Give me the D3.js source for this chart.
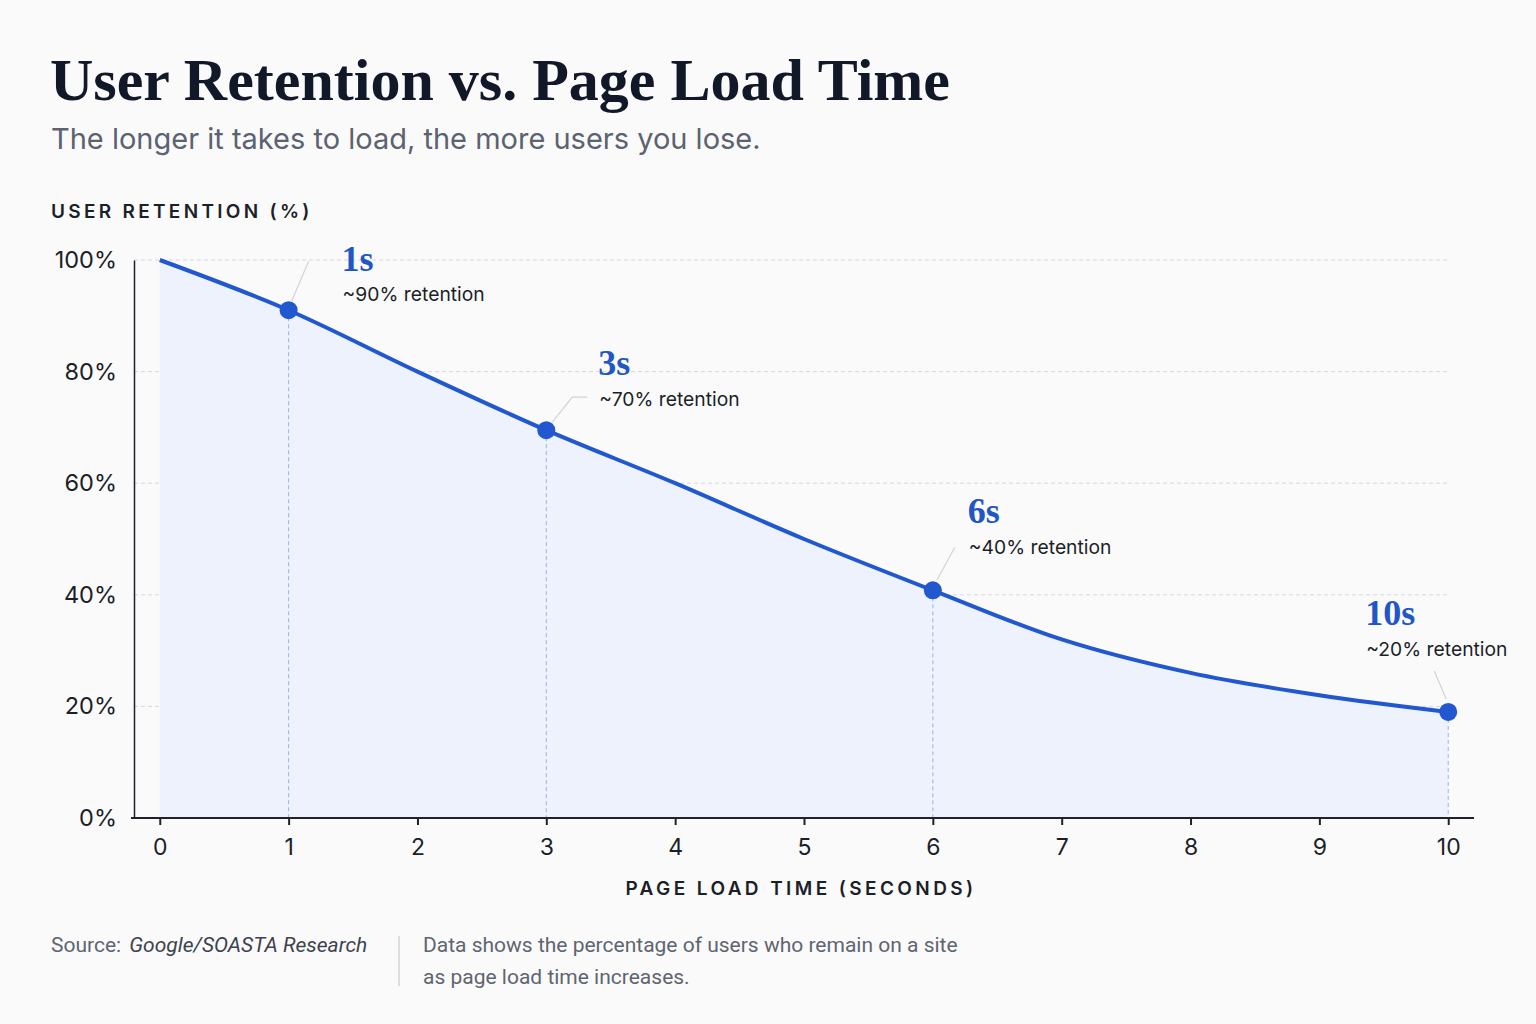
<!DOCTYPE html>
<html>
<head>
<meta charset="utf-8">
<script src="https://cdn.jsdelivr.net/npm/d3@7"></script>
<style>
  body { margin: 0; background: #fafafb; }
  text { font-family: Inter, "Noto Sans", sans-serif; }
</style>
</head>
<body>
<svg id="chart" width="1536" height="1024"></svg>
<script>
// data
var seconds   = [0, 1, 2, 3, 4, 5, 6, 7, 8, 9, 10];
var retention = [100, 91, 80, 69.5, 60, 50, 40.8, 32, 26, 22, 19];

var markSeconds = [1, 3, 6, 10];
var markTitles  = ["1s", "3s", "6s", "10s"];
var markNotes   = ["~90% retention", "~70% retention", "~40% retention", "~20% retention"];

var xTicks = [0, 1, 2, 3, 4, 5, 6, 7, 8, 9, 10];
var yTicks = [0, 20, 40, 60, 80, 100];

// label placement relative to each marker (layout only)
var labelLayout = [
  {tx: 53, ty: -39, ny: -9,  lead: [[3, -9], [20, -49]]},
  {tx: 52, ty: -55, ny: -24, lead: [[6, -8], [26, -33], [41, -33]]},
  {tx: 35, ty: -67, ny: -36, lead: [[4, -10], [22, -43]]},
  {tx: -83, ty: -87, ny: -56, lead: [[-2, -13], [-14, -41]]}
];

var data = seconds.map((s, i) => ({s: s, r: retention[i]}));

var svg = d3.select("#chart");

var blue = "#2157cf";

// titles
svg.append("text")
    .attr("x", 50).attr("y", 100)
    .style("font-family", "'Liberation Serif', 'DejaVu Serif', serif")
    .style("font-weight", 700)
    .style("font-size", "60px")
    .attr("fill", "#111827")
    .text("User Retention vs. Page Load Time");

svg.append("text")
    .attr("x", 51).attr("y", 149)
    .style("font-size", "29px")
    .attr("fill", "#5b6270")
    .text("The longer it takes to load, the more users you lose.");

svg.append("text")
    .attr("x", 51).attr("y", 218)
    .style("font-size", "19px")
    .style("font-weight", 600)
    .style("letter-spacing", "3.3px")
    .attr("fill", "#1b1f27")
    .text("USER RETENTION (%)");

// scales
var x = d3.scaleLinear().domain([-0.2, 10.2]).range([134, 1474]);
var y = d3.scaleLinear().domain([0, 100]).range([818, 260]);

var g = svg.append("g");

// grid
g.append("g")
  .selectAll("line")
  .data(yTicks.filter(d => d > 0))
  .enter().append("line")
    .attr("x1", x(-0.2)).attr("x2", 1447)
    .attr("y1", d => y(d)).attr("y2", d => y(d))
    .attr("stroke", "#d5d9e0")
    .attr("stroke-width", 1)
    .attr("stroke-dasharray", "4,3");

// area + line
var area = d3.area()
    .x(d => x(d.s))
    .y0(y(0))
    .y1(d => y(d.r))
    .curve(d3.curveMonotoneX);

var line = d3.line()
    .x(d => x(d.s))
    .y(d => y(d.r))
    .curve(d3.curveMonotoneX);

g.append("path")
    .datum(data)
    .attr("d", area)
    .attr("fill", "#edf2fd");

// drop lines
var marks = markSeconds.map((s, i) => ({s: s, r: retention[seconds.indexOf(s)], title: markTitles[i], note: markNotes[i], lay: labelLayout[i]}));

g.append("g")
  .selectAll("line")
  .data(marks)
  .enter().append("line")
    .attr("x1", d => x(d.s)).attr("x2", d => x(d.s))
    .attr("y1", d => y(d.r)).attr("y2", y(0))
    .attr("stroke", "#9fb4d8")
    .attr("stroke-width", 1)
    .attr("stroke-dasharray", "4,3");

g.append("path")
    .datum(data)
    .attr("d", line)
    .attr("fill", "none")
    .attr("stroke", blue)
    .attr("stroke-width", 4);

// axes
var xAxis = g.append("g")
    .attr("transform", "translate(0," + y(0) + ")")
    .call(d3.axisBottom(x).tickValues(xTicks).tickSize(7).tickSizeOuter(0).tickPadding(14));
xAxis.select(".domain").attr("stroke", "#1f2329").attr("stroke-width", 2).attr("d", "M131,0H1474");
xAxis.selectAll(".tick line").attr("stroke", "#1f2329").attr("stroke-width", 2).attr("y1", 0);
xAxis.selectAll(".tick text")
    .style("font-size", "23px")
    .attr("fill", "#1b1f27");

var yAxis = g.append("g")
    .attr("transform", "translate(" + x(-0.2) + ",0)")
    .call(d3.axisLeft(y).tickValues(yTicks).tickSize(0).tickPadding(17).tickFormat(d => d + "%"));
yAxis.select(".domain").attr("stroke", "#1f2329").attr("stroke-width", 1.5);
yAxis.selectAll(".tick text")
    .style("font-size", "23.5px")
    .attr("fill", "#1b1f27");

svg.append("text")
    .attr("x", 801).attr("y", 895)
    .attr("text-anchor", "middle")
    .style("font-size", "19px")
    .style("font-weight", 600)
    .style("letter-spacing", "3.4px")
    .attr("fill", "#1b1f27")
    .text("PAGE LOAD TIME (SECONDS)");

// markers + annotations
var ann = g.append("g")
  .selectAll("g")
  .data(marks)
  .enter().append("g")
    .attr("transform", d => "translate(" + x(d.s) + "," + y(d.r) + ")");

ann.append("path")
    .attr("d", d => d3.line()(d.lay.lead))
    .attr("fill", "none")
    .attr("stroke", "#cfd3d9")
    .attr("stroke-width", 1.2);

ann.append("circle")
    .attr("r", 9)
    .attr("fill", blue);

ann.append("text")
    .attr("x", d => d.lay.tx).attr("y", d => d.lay.ty)
    .style("font-family", "'Liberation Serif', 'DejaVu Serif', serif")
    .style("font-weight", 700)
    .style("font-size", "36px")
    .attr("fill", "#2256c4")
    .text(d => d.title);

ann.append("text")
    .attr("x", d => d.lay.tx + 1).attr("y", d => d.lay.ny)
    .style("font-size", "19.3px")
    .attr("fill", "#1b1f27")
    .text(d => d.note);

// footer
var foot = svg.append("text")
    .attr("x", 51).attr("y", 952)
    .style("font-family", "Roboto, sans-serif")
    .style("font-size", "21px")
    .attr("fill", "#5f6570");
foot.append("tspan").text("Source:");
foot.append("tspan").attr("dx", 8).style("font-style", "italic").attr("fill", "#3d434d").text("Google/SOASTA Research");

svg.append("line")
    .attr("x1", 399).attr("x2", 399)
    .attr("y1", 936).attr("y2", 986)
    .attr("stroke", "#c9ccd2").attr("stroke-width", 1.2);

var note = svg.append("text")
    .style("font-family", "Roboto, sans-serif")
    .style("font-size", "21px")
    .attr("fill", "#5f6570");
note.append("tspan").attr("x", 423).attr("y", 952).text("Data shows the percentage of users who remain on a site");
note.append("tspan").attr("x", 423).attr("y", 984).text("as page load time increases.");
</script>
</body>
</html>
